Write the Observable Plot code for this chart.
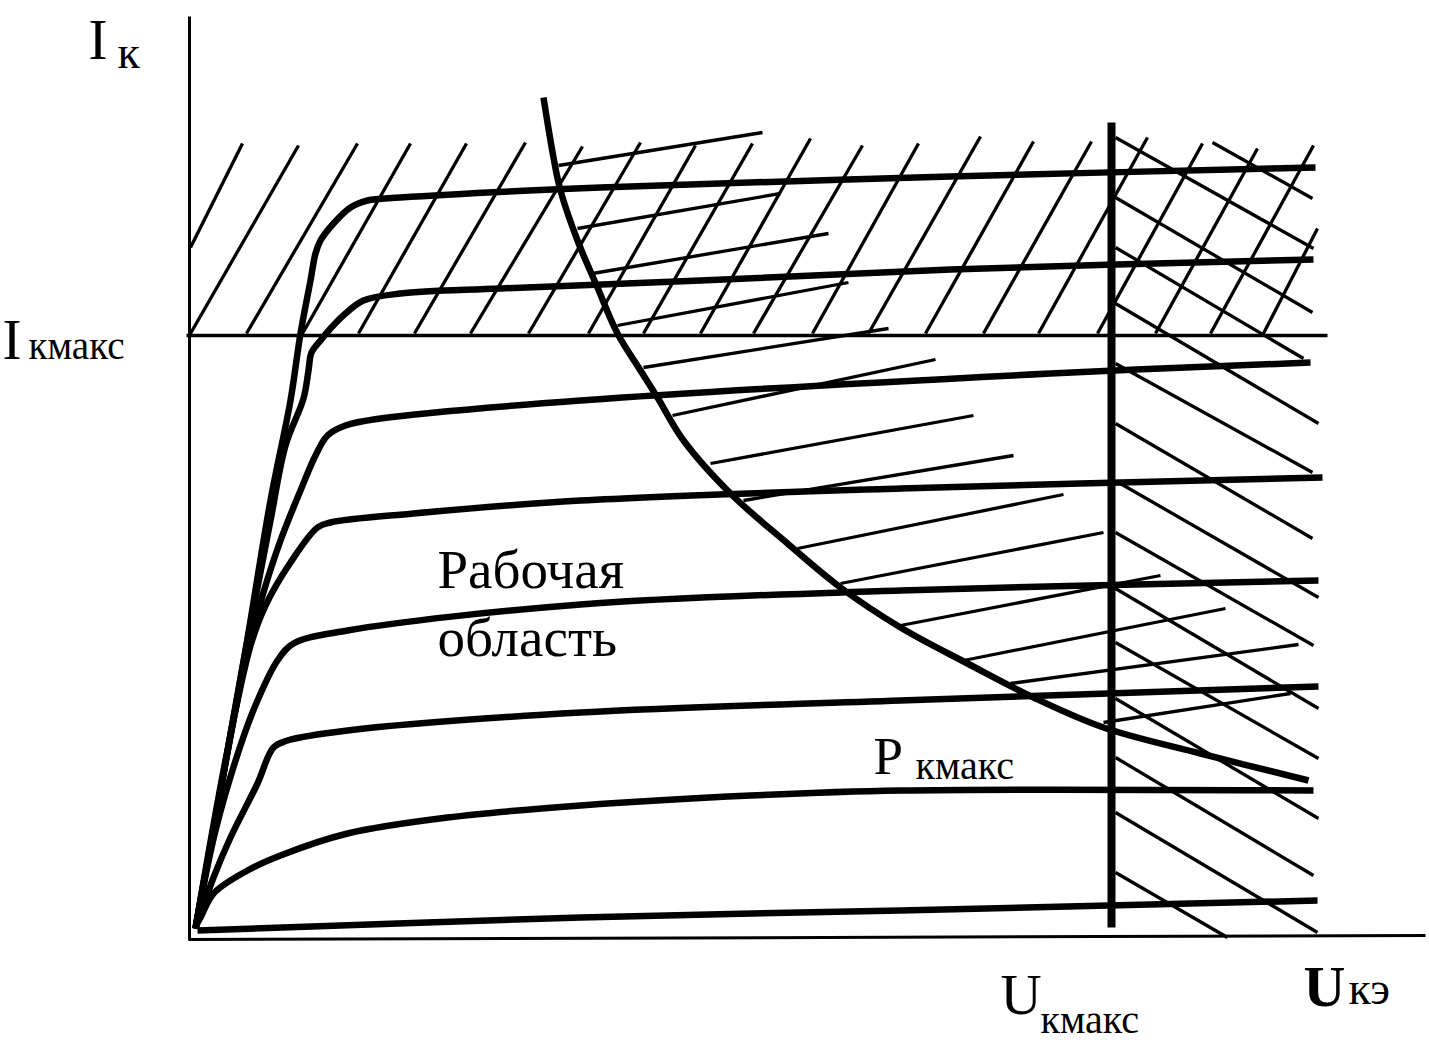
<!DOCTYPE html>
<html><head><meta charset="utf-8">
<script src="https://cdn.jsdelivr.net/npm/d3@7"></script>
<script src="https://cdn.jsdelivr.net/npm/@observablehq/plot@0.6"></script>
<style>
html,body{margin:0;padding:0;background:#fff}
#chart svg{display:block}
</style>
</head><body><div id="chart"></div>
<script>
// ---- Output characteristics (U = Uкэ, I = Iк, arbitrary units) ----
const uA = [6,31,56,81,101,111,121,126,131,144,161,178,211,411,761,1126];
const iA = [9,147,287,437,537,604,657,684,697,714,730,737,740,750,761,770];
const uB = [6,31,56,81,96,114,119,122,131,141,156,174,211,311,511,761,1124];
const iB = [9,147,287,417,492,539,567,585,597,609,624,637,644,649,657,668,678];
const uC = [6,31,58,73,91,111,126,138,156,191,391,861,1121];
const iC = [9,147,287,342,397,447,482,502,512,519,537,564,575];
const uD = [6,36,61,76,101,128,141,224,391,711,1133];
const iD = [9,177,292,332,375,410,415,424,437,449,460];
const uE = [6,26,51,68,88,104,158,391,711,1129];
const iE = [9,107,192,237,277,294,307,333,347,357];
const uF = [6,24,41,68,84,98,158,391,711,1129];
const iF = [9,60,100,154,190,197,207,225,237,251];
const uG = [6,11,24,58,91,158,258,391,561,711,1124];
const iG = [12,20,44,67,82,104,120,132,142,147,147];
const uH = [8,391,711,1128];
const iH = [7,20,27,37];

// ---- Pкмакс boundary ----
const uP = [354,364,371,388,408,428,451,468,494,541,598,651,711,778,844,914,1011,1119];
const iP = [840,780,747,697,650,604,567,540,497,444,394,350,310,274,240,210,184,157];

// ---- limits ----
const IkMax = 602;      // Iкмакс level
const UkMax = 922;      // Uкмакс level
const uAxisMax = 1236;
const iAxisMax = 921;

// ---- hatching above Iкмакс ("/") ----
const slashU0 = [1,1,57,113,169,225,281,339,399,454,511,564,623,679,736,794,849,908,966,1021,1074];
const slashI0 = [690,604,604,604,604,604,604,604,604,604,604,604,604,604,604,604,604,604,604,604,604];
const slashU1 = [53,109,168,221,277,336,393,451,506,563,621,673,729,791,844,902,958,1013,1068,1124,1128];
const slashI1 = [794,792,794,794,794,795,791,795,792,794,799,792,794,801,796,796,800,794,789,792,709];

// ---- hatching beyond Pкмакс (slightly rising strokes) ----
const pU0 = [369,388,403,428,454,483,521,554,608,651,711,774,821,914];
const pI0 = [772,709,664,612,570,522,474,437,389,354,312,277,254,215];
const pU1 = [573,591,639,659,699,746,784,824,874,914,971,1036,1109,1101];
const pI1 = [805,744,704,655,609,578,522,482,443,405,362,329,293,244];

// ---- hatching beyond Uкмакс ("\") ----
const bU0 = [1023,926,926,926,926,926,926,929,926,926,926,926,926,926,926];
const bI0 = [795,800,740,690,634,574,514,455,405,349,295,239,180,125,65];
const bU1 = [1123,1124,1123,1114,1129,1123,1123,1129,1124,1129,1129,1129,1124,1128,1038];
const bI1 = [739,689,625,579,514,465,399,340,292,229,179,119,62,5,0];

// ---- labels ----
const labelText   = ["I","к","I","кмакс","Рабочая","область","P","кмакс","U","кмакс","U","кэ"];
const labelU      = [-101,-72,-187,-161,248,248,684,726,811,851,1114,1159];
const labelI      = [879,870,579,579,350,282,164,159,-76,-95,-68,-66];
const labelSize   = [57,46,57,39,55,55,53,40,57,40,58,46];
const labelWeight = ["normal","normal","normal","normal","normal","normal","normal","normal","normal","normal","bold","normal"];

// ---- build tables ----
const curveSets = [["A",uA,iA],["B",uB,iB],["C",uC,iC],["D",uD,iD],["E",uE,iE],["F",uF,iF],["G",uG,iG],["H",uH,iH]];
const curves = curveSets.flatMap(([k,us,is]) => us.map((u,j) => ({curve:k, u, i:is[j]})));
const pmax = uP.map((u,j) => ({u, i:iP[j]}));
const seg = (U0,I0,U1,I1) => U0.map((u,j) => ({u0:u, i0:I0[j], u1:U1[j], i1:I1[j]}));
const slash = seg(slashU0,slashI0,slashU1,slashI1);
const phatch = seg(pU0,pI0,pU1,pI1);
const bhatch = seg(bU0,bI0,bU1,bI1);
const labels = labelText.map((t,j) => ({t, u:labelU[j], i:labelI[j], s:labelSize[j], w:labelWeight[j]}));

const serif = "'Liberation Serif','DejaVu Serif',serif";
const thin = 3.3;
const plot = Plot.plot({
  width: 1429, height: 1044,
  marginLeft: 0, marginRight: 0, marginTop: 0, marginBottom: 0,
  x: {domain: [0, 1236], range: [189, 1425], axis: null},
  y: {domain: [0, 921], range: [937, 16], axis: null},
  style: {background: "#fff", overflow: "visible"},
  marks: [
    // hatching
    Plot.link(slash, {x1:"u0", y1:"i0", x2:"u1", y2:"i1", stroke:"#000", strokeWidth:thin, strokeLinecap:"butt"}),
    Plot.link(phatch, {x1:"u0", y1:"i0", x2:"u1", y2:"i1", stroke:"#000", strokeWidth:thin, strokeLinecap:"butt"}),
    Plot.link(bhatch, {x1:"u0", y1:"i0", x2:"u1", y2:"i1", stroke:"#000", strokeWidth:thin, strokeLinecap:"butt"}),
    // axes
    Plot.link([{u0:0, i0:-3, u1:0, i1:iAxisMax}], {x1:"u0", y1:"i0", x2:"u1", y2:"i1", stroke:"#000", strokeWidth:3}),
    Plot.link([{u0:-1, i0:-2, u1:uAxisMax, i1:2}], {x1:"u0", y1:"i0", x2:"u1", y2:"i1", stroke:"#000", strokeWidth:3}),
    // Iкмакс line
    Plot.link([{u0:-3, i0:IkMax, u1:1138, i1:IkMax}], {x1:"u0", y1:"i0", x2:"u1", y2:"i1", stroke:"#000", strokeWidth:3.3}),
    // Uкмакс line
    Plot.link([{u0:UkMax, i0:815, u1:UkMax, i1:10}], {x1:"u0", y1:"i0", x2:"u1", y2:"i1", stroke:"#000", strokeWidth:8}),
    // characteristics
    Plot.line(curves, {x:"u", y:"i", z:"curve", stroke:"#000", strokeWidth:6.5, curve:"catmull-rom", strokeLinejoin:"round", strokeLinecap:"butt"}),
    // Pкмакс
    Plot.line(pmax, {x:"u", y:"i", stroke:"#000", strokeWidth:6.5, curve:"catmull-rom", strokeLinecap:"butt"}),
    // labels
    ...labels.map(l => Plot.text([l], {x:"u", y:"i", text:"t", fontSize:l.s, fontWeight:l.w,
      fontFamily:serif, textAnchor:"start", lineAnchor:"bottom", fill:"#000", clip:false}))
  ]
});
document.getElementById("chart").appendChild(plot);
</script>
</body></html>
